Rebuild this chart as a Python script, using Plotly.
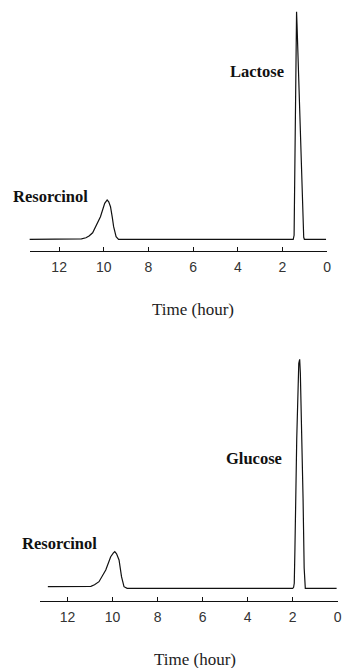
import plotly.graph_objects as go

# ---- data ----
top_time = [13.45, 11.2, 11.0, 10.8, 10.66, 10.5, 10.37, 10.15, 9.96, 9.85, 9.78, 9.7, 9.62, 9.56, 9.45, 9.34,
            9.0, 1.52, 1.48, 1.46, 1.42, 1.38, 1.37, 1.35, 1.28, 1.19, 1.12, 1.07, 1.05, 1.02, 0.05]
top_signal = [0, 0, 0.5, 1.5, 3.3, 6.5, 12, 22.6, 36, 39.3, 37.5, 32.6, 22, 12.6, 2.6, 0,
              0, 0, 4, 50, 150, 225, 227.6, 215, 160, 114, 55, 10, 2, 0, 0]

bot_time = [12.87, 11.1, 10.96, 10.8, 10.6, 10.3, 10.08, 9.96, 9.9, 9.82, 9.71, 9.6, 9.49, 9.35,
            2.0, 1.96, 1.93, 1.90, 1.82, 1.73, 1.69, 1.66, 1.60, 1.54, 1.49, 1.47, 1.44, 0.05]
bot_signal = [1.6, 1.6, 2, 3.5, 6.6, 18.3, 31.6, 35.5, 36.6, 34.5, 28.3, 11.6, 1.6, 0,
              0, 1, 5, 40, 150, 225, 229, 215, 160, 90, 20, 4, 0, 0]

tick_vals = [12, 10, 8, 6, 4, 2, 0]
tick_text = ["12", "10", "8", "6", "4", "2", "0"]

top_labels = ["Resorcinol", "Lactose"]
top_label_x = [12.39, 3.14]
top_label_y = [43.3, 167.6]
bot_labels = ["Resorcinol", "Glucose"]
bot_label_x = [12.34, 3.74]
bot_label_y = [45.3, 130.3]
axis_title = "Time (hour)"

W, H = 345, 668

fig = go.Figure()
line = dict(color="#111111", width=1.2)
fig.add_trace(go.Scatter(x=top_time, y=top_signal, mode="lines", line=line,
                         xaxis="x", yaxis="y", showlegend=False, hoverinfo="skip"))
fig.add_trace(go.Scatter(x=bot_time, y=bot_signal, mode="lines", line=line,
                         xaxis="x2", yaxis="y2", showlegend=False, hoverinfo="skip"))

xcommon = dict(showgrid=False, zeroline=False, showline=True, linecolor="#111111", linewidth=1.2,
               ticks="inside", ticklen=4, tickwidth=1.1, tickcolor="#111111",
               tickvals=tick_vals, ticktext=tick_text, ticklabelstandoff=3,
               tickfont=dict(family="Liberation Sans", size=14, color="#333333"),
               fixedrange=True)

fig.update_layout(
    width=W, height=H,
    margin=dict(l=0, r=0, t=0, b=0),
    paper_bgcolor="white", plot_bgcolor="white",
    xaxis=dict(domain=[30 / W, 331 / W], range=[13.32, 0], anchor="y", **xcommon),
    yaxis=dict(domain=[1 - 250.7 / H, 1.0], range=[-11.4, 239.3], visible=False, fixedrange=True),
    xaxis2=dict(domain=[40 / W, 341.7 / W], range=[13.24, 0], anchor="y2", **xcommon),
    yaxis2=dict(domain=[1 - 600.7 / H, 1 - 340 / H], range=[-12.4, 248.3], visible=False, fixedrange=True),
)

serif_bold = dict(family="Liberation Serif", size=16.5, color="#111111")
for t, x, y in zip(top_labels, top_label_x, top_label_y):
    fig.add_annotation(x=x, y=y, xref="x", yref="y", text="<b>" + t + "</b>", showarrow=False,
                       font=serif_bold, xanchor="center", yanchor="middle")
for t, x, y in zip(bot_labels, bot_label_x, bot_label_y):
    fig.add_annotation(x=x, y=y, xref="x2", yref="y2", text="<b>" + t + "</b>", showarrow=False,
                       font=serif_bold, xanchor="center", yanchor="middle")

title_font = dict(family="Liberation Serif", size=17, color="#222222")
fig.add_annotation(x=195 / W, y=1 - 310 / H, xref="paper", yref="paper", text=axis_title,
                   showarrow=False, font=title_font, xanchor="center", yanchor="middle")
fig.add_annotation(x=197 / W, y=1 - 659 / H, xref="paper", yref="paper", text=axis_title,
                   showarrow=False, font=title_font, xanchor="center", yanchor="middle")

fig.write_html("out.html", config={"displayModeBar": False})
